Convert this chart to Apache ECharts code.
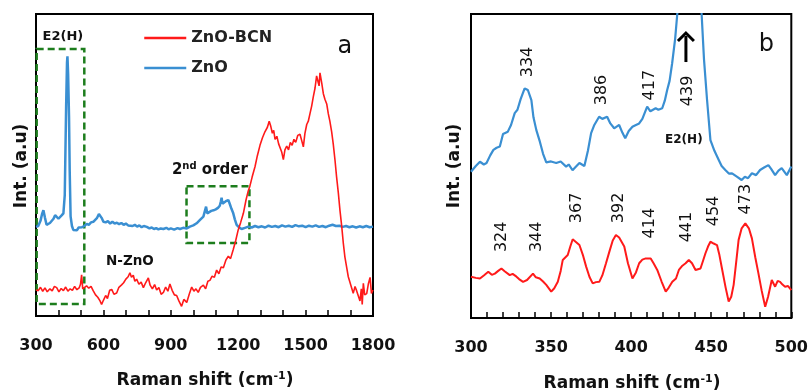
<!DOCTYPE html>
<html><head><meta charset="utf-8">
<script src="https://cdn.jsdelivr.net/npm/echarts@6/dist/echarts.min.js"></script>
<style>html,body{margin:0;padding:0;background:#fff}#c{width:811px;height:392px}</style>
</head><body><div id="c"></div>
<script>
// ---------- data ----------
const seriesNames = ['ZnO-BCN', 'ZnO'];
const xRangeA = [300, 1800];
const xRangeB = [300, 500];
const redA = [[300,8.6],[310,8.4],[320,9.5],[330,8.2],[340,9.3],[350,8.0],[362,9.0],[372,8.3],[382,9.8],[392,9.4],[402,8.0],[412,9.1],[422,8.4],[432,9.6],[442,8.2],[452,9.0],[462,8.5],[472,9.8],[482,8.7],[492,9.3],[498,10.5],[503,13.6],[508,9.0],[515,8.4],[525,10.0],[535,9.2],[545,9.8],[555,8.3],[565,7.0],[575,6.2],[585,5.0],[592,3.8],[600,5.2],[610,6.8],[618,5.8],[628,8.5],[637,8.8],[647,7.2],[659,7.6],[669,9.5],[681,10.3],[690,11.0],[700,12.2],[710,13.0],[718,14.3],[725,12.8],[733,13.5],[740,11.5],[748,12.2],[758,10.5],[768,11.2],[778,9.4],[788,11.0],[800,12.6],[808,10.2],[818,9.0],[828,10.4],[837,8.6],[847,9.4],[857,7.2],[867,7.8],[877,9.6],[887,8.2],[896,10.6],[906,8.5],[916,7.0],[926,6.8],[936,5.0],[948,3.2],[958,5.5],[971,4.5],[982,7.2],[993,9.6],[1003,8.2],[1012,9.0],[1022,7.8],[1032,9.5],[1045,10.2],[1055,9.0],[1065,11.5],[1074,11.8],[1084,13.2],[1094,12.8],[1104,15.2],[1114,14.0],[1124,16.2],[1134,16.0],[1145,18.5],[1156,19.8],[1166,19.0],[1178,22.0],[1189,25.0],[1200,28.5],[1211,31.0],[1223,34.0],[1235,38.5],[1245,41.5],[1252,43.0],[1262,46.0],[1275,49.5],[1285,53.0],[1297,56.5],[1308,59.0],[1319,61.0],[1330,62.5],[1338,64.5],[1345,62.8],[1352,60.5],[1358,61.5],[1364,58.5],[1372,59.5],[1380,57.0],[1386,56.8],[1394,54.2],[1401,51.8],[1408,55.0],[1416,56.3],[1424,55.0],[1432,57.5],[1440,56.5],[1448,58.5],[1456,57.5],[1465,59.8],[1475,60.2],[1483,58.0],[1490,56.0],[1497,60.5],[1505,63.4],[1512,64.5],[1520,67.2],[1527,69.5],[1534,72.5],[1542,75.5],[1549,79.5],[1554,78.0],[1560,76.2],[1564,80.5],[1567,80.2],[1572,77.0],[1579,73.6],[1586,71.8],[1594,70.2],[1601,67.0],[1608,64.5],[1616,61.0],[1623,57.0],[1631,51.5],[1638,46.0],[1646,40.5],[1653,35.0],[1661,29.5],[1668,24.0],[1675,19.5],[1683,16.0],[1690,13.0],[1698,11.0],[1705,10.5],[1712,7.5],[1720,9.8],[1727,8.4],[1734,6.8],[1742,5.0],[1748,9.0],[1752,3.8],[1757,10.8],[1763,7.0],[1772,7.4],[1779,10.5],[1787,12.8],[1793,7.5],[1800,8.6]];
const blueA = [[300,29.5],[310,29.8],[320,31.5],[327,33.8],[333,35.0],[340,32.5],[347,30.2],[355,30.0],[362,30.8],[370,31.4],[378,32.2],[385,33.4],[392,33.0],[400,32.2],[407,32.4],[414,33.3],[422,34.0],[428,40.0],[434,69.0],[438,84.0],[440,86.0],[443,80.0],[447,66.0],[450,48.0],[454,33.0],[460,29.8],[466,28.5],[474,28.9],[482,28.4],[490,29.3],[496,28.8],[505,29.4],[515,29.8],[526,30.5],[535,30.2],[545,31.0],[555,31.2],[563,31.8],[572,32.5],[580,33.8],[585,34.0],[592,32.5],[600,31.2],[610,31.0],[620,31.4],[630,30.6],[640,31.2],[650,30.6],[660,30.9],[670,30.4],[680,30.8],[690,30.2],[700,30.6],[710,30.0],[718,30.5],[730,29.8],[740,30.2],[750,29.6],[760,30.0],[770,29.4],[780,29.8],[793,29.5],[805,29.0],[815,29.3],[825,28.8],[835,29.1],[845,28.7],[855,29.0],[867,28.8],[880,29.2],[890,28.7],[900,29.0],[915,28.6],[930,29.1],[941,28.8],[955,29.2],[971,29.0],[985,29.6],[1000,30.0],[1015,30.7],[1030,31.8],[1045,32.9],[1052,33.5],[1057,36.2],[1062,34.0],[1070,34.2],[1080,34.8],[1090,35.0],[1100,35.3],[1110,35.8],[1118,36.5],[1123,38.0],[1126,39.2],[1130,37.2],[1136,37.8],[1145,38.0],[1150,38.6],[1156,38.4],[1163,37.0],[1170,35.5],[1178,34.0],[1185,32.0],[1193,30.2],[1203,29.4],[1215,28.8],[1230,29.2],[1245,29.6],[1260,29.3],[1275,29.8],[1290,29.4],[1305,29.7],[1320,29.3],[1335,29.9],[1350,29.5],[1365,29.8],[1380,29.4],[1395,30.0],[1410,29.6],[1425,29.9],[1440,29.5],[1455,30.1],[1470,29.7],[1485,29.9],[1500,29.4],[1515,29.9],[1530,29.6],[1545,30.0],[1560,29.5],[1575,29.8],[1590,29.4],[1605,29.9],[1620,30.2],[1635,29.8],[1650,29.9],[1665,29.5],[1680,29.8],[1695,29.4],[1710,29.7],[1725,29.3],[1740,29.7],[1755,29.4],[1770,29.8],[1785,29.4],[1800,29.6]];
const blueB = [[300,48.1],[303,50],[305.6,51.4],[308,50.5],[309.7,51],[312,53.5],[314,55.3],[316,56],[318,56.4],[320,60.5],[323,61.3],[325,63.5],[327.3,67.4],[329,68.5],[331,72],[333.5,75.5],[335.5,75],[337.7,71.7],[339,66],[340.8,61.8],[343,58],[345,54],[347,51.2],[350,51.5],[353.2,51],[356,51.5],[359.4,49.8],[361,50.5],[363.4,48.6],[365,49.5],[367.7,51],[370.8,50],[373,55],[375,60.8],[377,63.5],[380,66.2],[382,65.5],[385,66.2],[387,64],[389.4,62.4],[392.5,63.5],[394.5,61],[396.3,59.1],[398.5,61.5],[400.8,62.9],[403,63.5],[405,64],[407,65.5],[410,69.5],[412,68],[415.3,69],[417,68.5],[419.4,69],[421,71.5],[422.5,75],[424,78],[425.6,83.8],[427.5,92],[428.8,100],[431,120],[434,140],[437,150],[440,148],[442,128],[444,100],[445.5,85],[447.4,71.7],[449.5,58.5],[452,55],[454.7,52],[456.5,50],[458.8,48.7],[461,47.5],[463,47.6],[466,46.5],[469,45.4],[471,46.5],[473,46],[475.4,47.6],[478,47],[480.5,48.7],[483,49.5],[485.7,50.3],[487.5,49],[489.9,47],[492,48.5],[494,49.3],[497.2,47],[500,49.8]];
const redB = [[300,13.6],[303,13.2],[305.6,13],[308,14],[310.8,15.2],[313,14.2],[314.9,14.6],[317,15.5],[319,16.3],[321,15.4],[324.2,14.1],[326,14.5],[328.4,13.6],[330,12.8],[332.5,11.9],[335,12.5],[338.7,14.6],[340.5,13.4],[342.9,13],[345,12],[347,10.9],[350.1,8.7],[352,9.8],[354.2,11.9],[356,15.5],[357.3,19.1],[360.4,20.7],[362,23.5],[363.5,25.9],[365.5,25],[367.7,24],[370,20.5],[371.9,16.9],[374,13.5],[376,11.4],[378,11.8],[380.1,11.9],[382,14],[384.3,18],[386.5,22],[388.5,25.5],[390.5,27.3],[392.5,26.5],[395.7,23.5],[398,18],[400.8,13],[403,15],[405,18],[407,19.2],[409.1,19.6],[412.2,19.6],[414,18],[416.3,15.8],[419,12],[421.6,8.7],[423.5,10],[425.7,11.9],[428,13],[429.8,15.8],[432,17.2],[434,18],[436,19.1],[438,18],[440.2,15.8],[443.3,16.3],[445,19],[446.4,21.3],[448,23.5],[449.5,25.1],[451.5,24.5],[453.6,24],[455,21],[456.7,16.3],[459,10],[460.9,5.4],[462.5,7],[464,10.9],[465.5,18],[467.1,25.7],[469,29.5],[471.3,31.1],[473.5,29.5],[475.4,26.2],[477.5,20],[479.5,14.6],[481.5,9],[483.7,3.7],[485.5,7],[487.8,12.5],[489.9,10.3],[491.5,12.2],[493,11.9],[494.5,11],[496.1,10.3],[498,10.5],[500,9.2]];
// annotation text positions (data units)
const boxesA = [[[303,88.4],[515,4.0]], [[970,43.0],[1250,24.2]]];
const peakTextBlueB = [['334',335.4,84.2],['386',381.4,75.0],['417',411.8,76.6],['439',435.4,74.7]];
const peakTextRedB = [['324',319.3,26.7],['344',341.0,26.7],['367',365.8,36.2],['392',392.5,36.2],['414',411.8,31.2],['441',434.8,29.9],['454',451.6,35.2],['473',471.4,39.1]];

const FONT = '"DejaVu Sans", sans-serif';
const RED = '#ff1a1a', BLUE = '#3a8fd2', GREEN = '#1d7d1d';

const chart = echarts.init(document.getElementById('c'), null, {renderer: 'canvas'});

function xAxisCfg(gi, range, interval, split) {
  return {
    gridIndex: gi, type: 'value', min: range[0], max: range[1], interval: interval,
    axisLine: {show: false},
    axisTick: {show: true, inside: true, length: 6, lineStyle: {color: '#000', width: 1.5}},
    minorTick: {show: true, splitNumber: split, length: 6, lineStyle: {color: '#000', width: 1.5}},
    splitLine: {show: false}, minorSplitLine: {show: false},
    axisLabel: {margin: 22, color: '#111', fontFamily: FONT, fontWeight: 'bold', fontSize: 16,
      formatter: v => String(v)}
  };
}
function yAxisCfg(gi) {
  return {gridIndex: gi, type: 'value', min: 0, max: 100, axisLine: {show: false},
    axisTick: {show: false}, axisLabel: {show: false}, splitLine: {show: false}};
}

chart.setOption({
  animation: false,
  backgroundColor: '#fff',
  grid: [
    {left: 36, top: 14, width: 337, height: 302, show: true, borderColor: '#000', borderWidth: 2, backgroundColor: 'transparent'},
    {left: 471, top: 14, width: 322, height: 304, show: true, borderColor: '#000', borderWidth: 2, backgroundColor: 'transparent'}
  ],
  xAxis: [xAxisCfg(0, xRangeA, 300, 3), xAxisCfg(1, xRangeB, 50, 5)],
  yAxis: [yAxisCfg(0), yAxisCfg(1)],
  legend: {
    data: seriesNames, left: 143, top: 30, orient: 'vertical', padding: 0,
    itemWidth: 42, itemHeight: 14, itemGap: 14,
    itemStyle: {opacity: 0},
    lineStyle: {width: 2.5},
    textStyle: {fontFamily: FONT, fontSize: 16, fontWeight: 'bold', color: '#222'}
  },
  series: [
    {name: seriesNames[0], type: 'line', xAxisIndex: 0, yAxisIndex: 0, data: redA, symbol: 'none',
     lineStyle: {color: RED, width: 1.6}, itemStyle: {color: RED}, z: 3,
     markArea: {silent: true, itemStyle: {color: 'rgba(0,0,0,0)', borderColor: GREEN, borderWidth: 2.5, borderType: [7, 4]},
       data: boxesA.map(b => [{xAxis: b[0][0], yAxis: b[0][1]}, {xAxis: b[1][0], yAxis: b[1][1]}])}},
    {name: seriesNames[1], type: 'line', xAxisIndex: 0, yAxisIndex: 0, data: blueA, symbol: 'none',
     lineStyle: {color: BLUE, width: 2.5}, itemStyle: {color: BLUE}, z: 2},
    {name: seriesNames[1], type: 'line', xAxisIndex: 1, yAxisIndex: 1, data: blueB, symbol: 'none',
     lineStyle: {color: BLUE, width: 2.2}, itemStyle: {color: BLUE}, z: 2},
    {name: seriesNames[0], type: 'line', xAxisIndex: 1, yAxisIndex: 1, data: redB, symbol: 'none',
     lineStyle: {color: RED, width: 2}, itemStyle: {color: RED}, z: 3}
  ]
});

function P(g, x, y) { return chart.convertToPixel({gridIndex: g}, [x, y]); }
function txt(p, text, size, weight, rot, extra) {
  return Object.assign({type: 'text', x: p[0], y: p[1], rotation: rot || 0, z: 10,
    style: {text: text, fontFamily: FONT, fontSize: size, fontWeight: weight || 'normal', fill: '#111',
      align: 'center', verticalAlign: 'middle'}}, extra || {});
}
const g = [];
// axis titles
const ttl = (x, y) => ({type: 'text', x: x, y: y, z: 10, style: {
  text: 'Raman shift (cm{s|-1})', fontFamily: FONT, fontSize: 17, fontWeight: 'bold', fill: '#111',
  align: 'center', verticalAlign: 'middle',
  rich: {s: {fontFamily: FONT, fontSize: 11, fontWeight: 'bold', fill: '#111', verticalAlign: 'top', lineHeight: 20}}}});
g.push(ttl(205, 381));
g.push(ttl(632, 384));
g.push(txt([22, 166], 'Int. (a.u)', 17, 'bold', Math.PI / 2));
g.push(txt([455, 166], 'Int. (a.u)', 17, 'bold', Math.PI / 2));
// panel a annotations
g.push(txt(P(0, 420, 92.4), 'E2(H)', 13, 'bold'));
g.push(txt(P(0, 718, 17.9), 'N-ZnO', 13.5, 'bold'));
g.push(txt(P(0, 1675, 89), 'a', 24, 'normal'));
const p2 = P(0, 1074, 48.3);
g.push({type: 'text', x: p2[0], y: p2[1], z: 10, style: {
  text: '2{s|nd} order', fontFamily: FONT, fontSize: 15, fontWeight: 'bold', fill: '#111',
  align: 'center', verticalAlign: 'middle',
  rich: {s: {fontFamily: FONT, fontSize: 10, fontWeight: 'bold', fill: '#111', verticalAlign: 'top', lineHeight: 18}}}});
// panel b annotations
g.push(txt(P(1, 484.5, 89.8), 'b', 24, 'normal'));
g.push(txt(P(1, 432.9, 58.6), 'E2(H)', 12, 'bold'));
peakTextBlueB.forEach(t => g.push(txt(P(1, t[1], t[2]), t[0], 16, 'normal', Math.PI / 2)));
peakTextRedB.forEach(t => g.push(txt(P(1, t[1], t[2]), t[0], 16, 'normal', Math.PI / 2)));
const a0 = P(1, 434.2, 84.2), a1 = P(1, 434.2, 93.75);
g.push({type: 'line', z: 10, shape: {x1: a0[0], y1: a0[1], x2: a1[0], y2: a1[1] + 3}, style: {stroke: '#000', lineWidth: 3}});
g.push({type: 'polyline', z: 10, shape: {points: [[a1[0] - 8, a1[1] + 8], [a1[0], a1[1]], [a1[0] + 8, a1[1] + 8]]},
  style: {stroke: '#000', lineWidth: 3, fill: null}});
chart.setOption({graphic: g});
</script></body></html>
